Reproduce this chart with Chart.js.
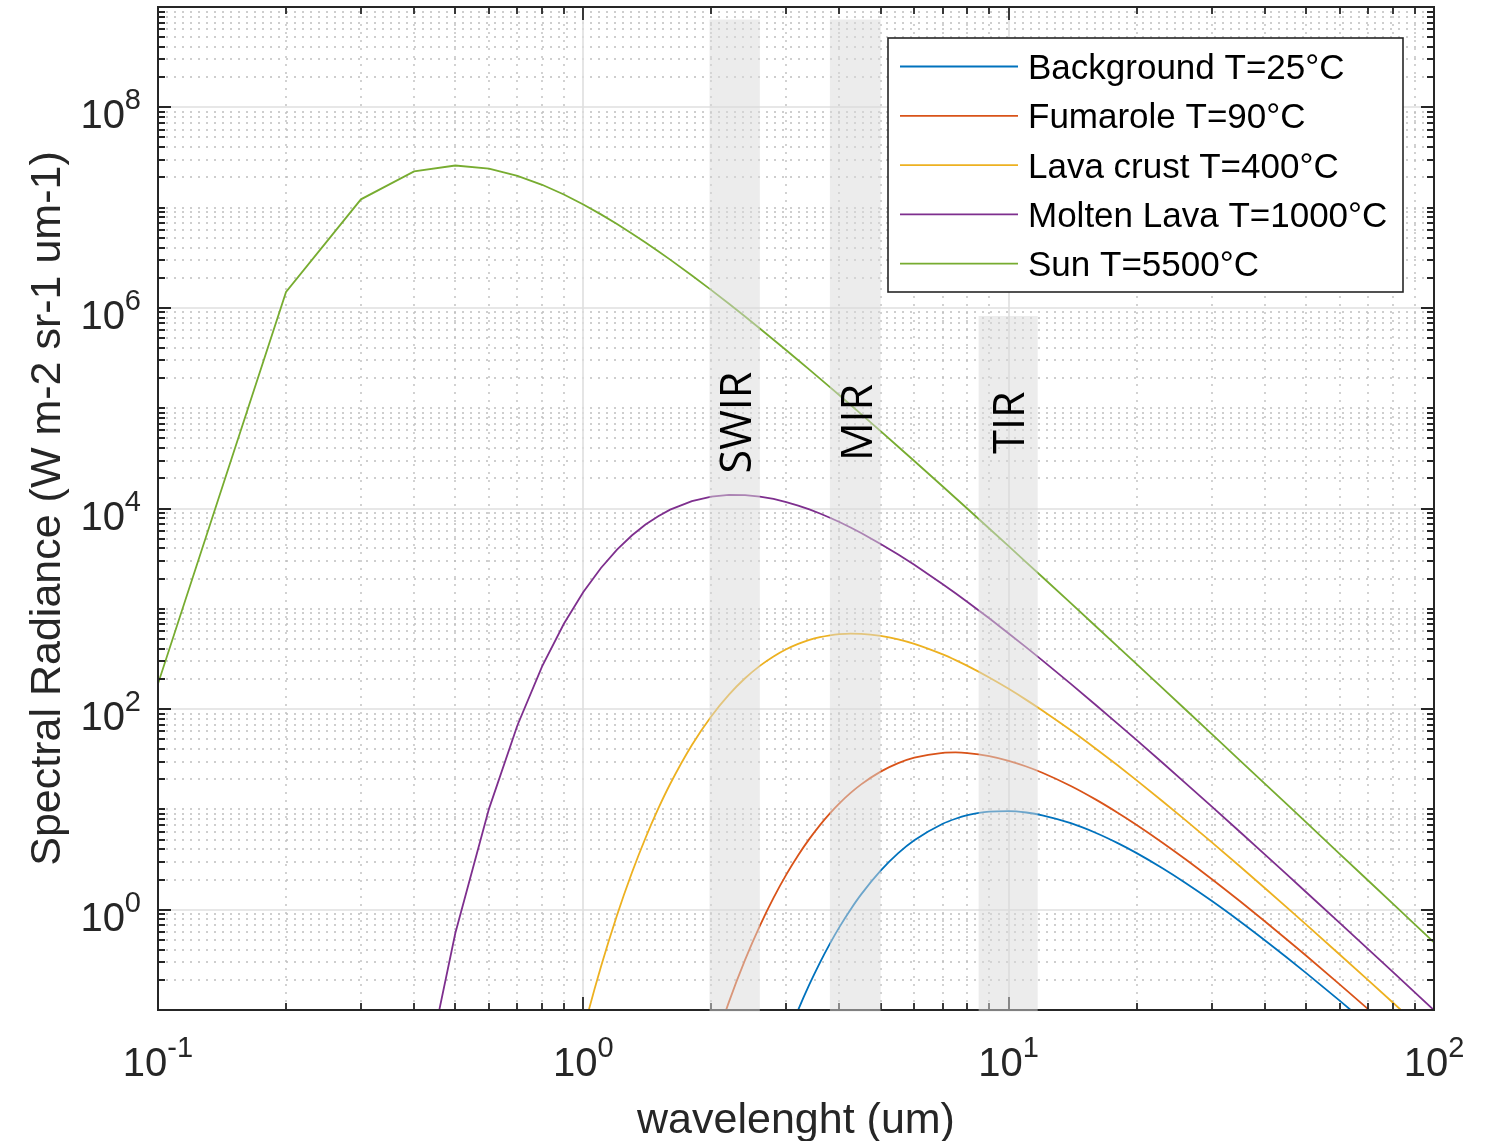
<!DOCTYPE html>
<html><head><meta charset="utf-8">
<script src="https://cdn.jsdelivr.net/npm/chart.js@4.4.1/dist/chart.umd.min.js"></script>
<style>html,body{margin:0;padding:0;background:#fff;overflow:hidden}canvas{display:block}</style>
</head><body>
<canvas id="c" width="1486" height="1141"></canvas>
<script>
// ---------- data ----------
const wavelengths = [0.1,0.2,0.3,0.4,0.5,0.6,0.7,0.8,0.9,1.0,1.1,1.2,1.3,1.4,1.5,1.6,1.8,2.0,2.2,2.4,2.6,2.8,3.0,3.2,3.4,3.6,3.8,4.0,4.25,4.5,5.0,5.5,6.0,7,7.5,8,9,10,11,12,14,16,18,20,23,26,30,35,40,45,50,60,70,80,90,100];

const background = [null,null,null,null,null,null,null,null,null,null,null,null,null,null,null,null,null,null,null,null,null,null,
  0.0506,0.1002,0.1797,0.2970,0.4590,0.6705,1.006,1.421,2.450,3.662,4.925,7.19,8.07,8.745,9.508,9.630,9.311,8.739,7.285,5.851,4.634,3.662,2.588,1.857,1.227,0.7636,0.4966,0.3357,0.2346,0.1240,0.0714,null,null,null];

const fumarole = [null,null,null,null,null,null,null,null,null,null,null,null,null,null,null,null,null,
  0.0363,0.1206,0.3155,0.690,1.312,2.238,3.494,5.08,6.98,9.13,11.48,14.59,17.77,23.81,28.93,32.79,36.62,36.95,36.48,34.02,30.52,26.78,23.20,17.11,12.58,9.318,6.99,4.658,3.201,2.025,1.213,0.7675,0.5081,0.3491,0.1803,0.1021,0.0620,null,null];

const lavaCrust = [null,null,null,null,null,null,null,null,
  0.0098,0.0621,0.2693,0.880,2.321,5.19,10.17,17.93,43.9,85.0,139.4,202.9,269.8,335.0,394.9,446.6,488.9,521.2,544.2,558.6,565.8,563.5,537.5,496.0,447.3,351.0,308.2,269.9,206.9,159.3,123.6,96.9,61.45,40.5,27.66,19.47,12.07,7.86,4.72,2.694,1.646,1.061,0.7145,0.3578,0.1984,0.1187,0.0752,0.0500];

const moltenLava = [null,null,null,
  0.00625,0.582,10.12,69.05,266.5,710,1472,2553,3891,5383,6914,8389,9734,11850,13130,13660,13600,13155,12445,11600,10700,9793,8920,8096,7330,6467,5703,4436,3477,2747,1761,1429,1170,803.5,568.3,412.3,305.9,178.4,110.6,72.15,49.0,29.16,18.41,10.71,5.95,3.56,2.26,1.502,0.739,0.4045,0.2395,0.1508,0.0995];

const sun = [178.8,1.443e6,1.209e7,2.294e7,2.627e7,2.445e7,2.074e7,1.688e7,1.350e7,1.074e7,8.56e6,6.86e6,5.53e6,4.49e6,3.68e6,3.03e6,2.106e6,1.503e6,1.098e6,8.20e5,6.23e5,4.82e5,3.78e5,3.01e5,2.424e5,1.973e5,1.622e5,1.345e5,1.077e5,8.72e4,5.90e4,4.13e4,2.975e4,1.657e4,1.273e4,9.94e3,6.32e3,4.21e3,2.908e3,2.074e3,1.137e3,674,424.5,280.5,161.7,99.7,56.6,30.7,18.09,11.33,7.46,3.61,1.955,1.148,0.718,0.472];

const seriesLabels = ['Background T=25°C','Fumarole T=90°C','Lava crust T=400°C','Molten Lava T=1000°C','Sun T=5500°C'];
const seriesColors = ['#0072BD','#D95319','#EDB120','#7E2F8E','#77AC30'];
const seriesSmooth = [true, true, true, false, false];

const xTickValues = [0.1, 1, 10, 100];
const xTickExps = ['-1','0','1','2'];
const yTickValues = [1, 100, 1e4, 1e6, 1e8];
const yTickExps = ['0','2','4','6','8'];

const bandNames = ['SWIR','MIR','TIR'];
const bandStart = [1.98, 3.8, 8.5];
const bandEnd = [2.6, 5.0, 11.7];
const bandTop = [7.5e8, 7.5e8, 8.3e5];
const bandLabelX = [2.28, 4.38, 10];
const bandLabelY = 7.2e4;

const xTitle = 'wavelenght (um)';
const yTitle = 'Spectral Radiance (W m-2 sr-1 um-1)';

// ---------- axis helpers ----------
const X_MIN = 0.1, X_MAX = 100, Y_MIN = 0.1, Y_MAX = 1e9;
function minorValues(kFrom, kTo, majors) {
  const out = [];
  for (let k = kFrom; k <= kTo; k++) {
    for (let m = 1; m <= 9; m++) {
      const v = m * Math.pow(10, k);
      if (majors.some(t => Math.abs(t / v - 1) < 1e-9)) continue;
      out.push(v);
    }
  }
  return out;
}
const xMinor = minorValues(-1, 1, xTickValues).filter(v => v > X_MIN * 1.0001);
const yMinor = minorValues(-1, 8, yTickValues).filter(v => v > Y_MIN * 1.0001);

const FONT = '"Liberation Sans", Arial, Helvetica, sans-serif';
const AX = '#262626';

const matlabPlugin = {
  id: 'matlab',
  beforeDatasetsDraw(chart) {
    const {ctx, chartArea: a, scales: {x, y}} = chart;
    ctx.save();
    // minor dotted grid
    ctx.strokeStyle = 'rgba(20,20,20,0.28)';
    ctx.lineWidth = 1.4;
    ctx.setLineDash([2, 6]);
    ctx.beginPath();
    xMinor.forEach(v => { const p = Math.round(x.getPixelForValue(v)); ctx.moveTo(p, a.bottom); ctx.lineTo(p, a.top); });
    yMinor.forEach(v => { const p = Math.round(y.getPixelForValue(v)); if (p <= a.top + 1) return; ctx.moveTo(a.left, p); ctx.lineTo(a.right, p); });
    ctx.stroke();
    ctx.setLineDash([]);
    // major solid grid
    ctx.strokeStyle = 'rgb(223,223,223)';
    ctx.lineWidth = 1.6;
    ctx.beginPath();
    xTickValues.forEach(v => { const p = Math.round(x.getPixelForValue(v)); ctx.moveTo(p, a.bottom); ctx.lineTo(p, a.top); });
    yTickValues.forEach(v => { const p = Math.round(y.getPixelForValue(v)); ctx.moveTo(a.left, p); ctx.lineTo(a.right, p); });
    ctx.stroke();
    ctx.restore();
  },
  afterDatasetsDraw(chart) {
    const {ctx, chartArea: a, scales: {x, y}} = chart;
    ctx.save();
    // box
    ctx.strokeStyle = AX;
    ctx.lineWidth = 2;
    ctx.strokeRect(a.left, a.top, a.right - a.left, a.bottom - a.top);
    // ticks (inward, all four sides)
    ctx.lineWidth = 1.8;
    ctx.beginPath();
    const MAJ = 13, MIN = 7;
    xTickValues.concat(xMinor).forEach((v, i) => {
      const L = i < xTickValues.length ? MAJ : MIN;
      const p = Math.round(x.getPixelForValue(v));
      ctx.moveTo(p, a.bottom); ctx.lineTo(p, a.bottom - L);
      ctx.moveTo(p, a.top); ctx.lineTo(p, a.top + L);
    });
    yTickValues.concat(yMinor).forEach((v, i) => {
      const L = i < yTickValues.length ? MAJ : MIN;
      const p = Math.round(y.getPixelForValue(v));
      ctx.moveTo(a.left, p); ctx.lineTo(a.left + L, p);
      ctx.moveTo(a.right, p); ctx.lineTo(a.right - L, p);
    });
    ctx.stroke();

    // spectral bands (semi-transparent, on top of curves and axis)
    ctx.fillStyle = 'rgba(217,217,217,0.5)';
    bandNames.forEach((n, i) => {
      const x1 = x.getPixelForValue(bandStart[i]);
      const x2 = x.getPixelForValue(bandEnd[i]);
      const yt = y.getPixelForValue(bandTop[i]);
      ctx.fillRect(x1, yt, x2 - x1, a.bottom + 1.5 - yt);
    });
    // band labels (rotated)
    ctx.fillStyle = '#000';
    ctx.font = '43px "Open Sans", "Noto Sans", sans-serif';
    ctx.textAlign = 'center';
    ctx.textBaseline = 'alphabetic';
    const cap = 43 * 0.714;
    bandNames.forEach((n, i) => {
      const cx = x.getPixelForValue(bandLabelX[i]);
      const cy = y.getPixelForValue(bandLabelY);
      ctx.save();
      ctx.translate(cx + cap / 2, cy);
      ctx.rotate(-Math.PI / 2);
      ctx.fillText(n, 0, 0);
      ctx.restore();
    });

    // legend
    const lx = 888, ly = 38, lw = 515, lh = 254;
    ctx.fillStyle = '#fff';
    ctx.fillRect(lx, ly, lw, lh);
    ctx.strokeStyle = AX;
    ctx.lineWidth = 1.6;
    ctx.strokeRect(lx, ly, lw, lh);
    ctx.font = '35px ' + FONT;
    ctx.textAlign = 'left';
    ctx.textBaseline = 'alphabetic';
    chart.data.datasets.forEach((ds, i) => {
      const ry = 66.5 + i * 49.3;
      ctx.strokeStyle = ds.borderColor;
      ctx.lineWidth = 1.8;
      ctx.beginPath();
      ctx.moveTo(900, ry); ctx.lineTo(1018, ry);
      ctx.stroke();
      ctx.fillStyle = '#000';
      ctx.fillText(ds.label, 1028, ry + 12.5);
    });

    // tick labels: 10^n
    ctx.fillStyle = AX;
    const baseFont = '40px ' + FONT, supFont = '29px ' + FONT;
    function measure(base, exp) {
      ctx.font = baseFont; const wb = ctx.measureText(base).width;
      ctx.font = supFont; const we = ctx.measureText(exp).width;
      return [wb, we];
    }
    xTickValues.forEach((v, i) => {
      const p = x.getPixelForValue(v);
      const [wb, we] = measure('10', xTickExps[i]);
      const sx = p - (wb + we) / 2;
      ctx.font = baseFont; ctx.fillText('10', sx, 1076);
      ctx.font = supFont; ctx.fillText(xTickExps[i], sx + wb, 1057);
    });
    yTickValues.forEach((v, i) => {
      const p = y.getPixelForValue(v);
      const [wb, we] = measure('10', yTickExps[i]);
      const sx = 141 - (wb + we);
      ctx.font = baseFont; ctx.fillText('10', sx, p + 21);
      ctx.font = supFont; ctx.fillText(yTickExps[i], sx + wb, p + 2);
    });

    // axis titles
    ctx.font = '43px ' + FONT;
    ctx.textAlign = 'center';
    ctx.fillText(xTitle, (a.left + a.right) / 2, 1133);
    ctx.save();
    ctx.translate(60, (a.top + a.bottom) / 2);
    ctx.rotate(-Math.PI / 2);
    ctx.fillText(yTitle, 0, 0);
    ctx.restore();
    ctx.restore();
  }
};

const seriesValues = [background, fumarole, lavaCrust, moltenLava, sun];
const datasets = seriesValues.map((vals, i) => ({
  label: seriesLabels[i],
  data: wavelengths.map((w, j) => ({x: w, y: vals[j]})),
  borderColor: seriesColors[i],
  backgroundColor: seriesColors[i],
  borderWidth: 1.8,
  pointRadius: 0,
  tension: 0,
  cubicInterpolationMode: seriesSmooth[i] ? 'monotone' : 'default',
  fill: false,
  spanGaps: false
}));

new Chart(document.getElementById('c'), {
  type: 'line',
  data: { datasets },
  options: {
    responsive: false,
    animation: false,
    devicePixelRatio: 1,
    layout: { padding: { left: 158, top: 7, right: 52, bottom: 131 } },
    scales: {
      x: { type: 'logarithmic', min: X_MIN, max: X_MAX, display: false },
      y: { type: 'logarithmic', min: Y_MIN, max: Y_MAX, display: false }
    },
    plugins: { legend: { display: false }, tooltip: { enabled: false } },
    events: []
  },
  plugins: [matlabPlugin]
});
</script>
</body></html>
